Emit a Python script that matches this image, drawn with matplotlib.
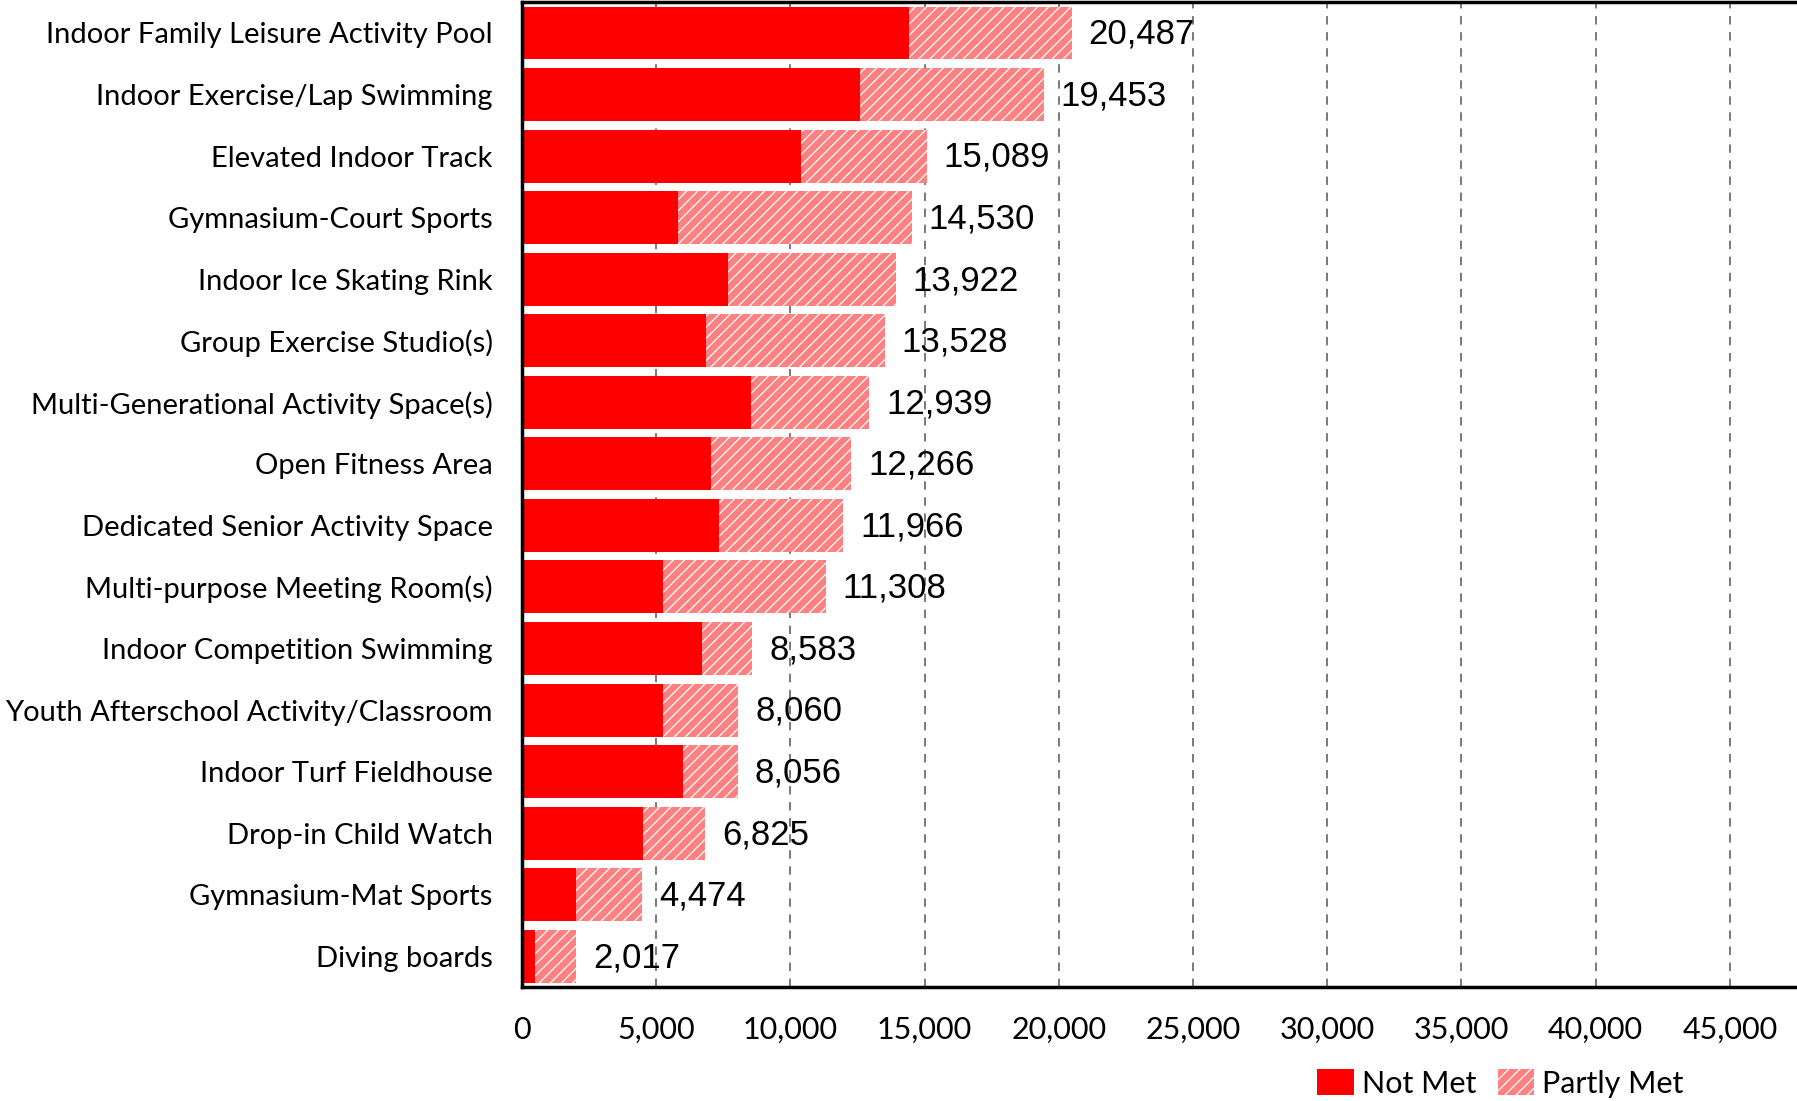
import numpy as np
import matplotlib
matplotlib.use('Agg')
import matplotlib.pyplot as plt
from matplotlib.patches import Patch

plt.rcParams['hatch.linewidth'] = 0.9

categories = ['Indoor Family Leisure Activity Pool', 'Indoor Exercise/Lap Swimming',
              'Elevated Indoor Track', 'Gymnasium-Court Sports', 'Indoor Ice Skating Rink',
              'Group Exercise Studio(s)', 'Multi-Generational Activity Space(s)',
              'Open Fitness Area', 'Dedicated Senior Activity Space',
              'Multi-purpose Meeting Room(s)', 'Indoor Competition Swimming',
              'Youth Afterschool Activity/Classroom', 'Indoor Turf Fieldhouse',
              'Drop-in Child Watch', 'Gymnasium-Mat Sports', 'Diving boards']
totals = [20487, 19453, 15089, 14530, 13922, 13528, 12939, 12266,
          11966, 11308, 8583, 8060, 8056, 6825, 4474, 2017]
not_met = [14420, 12590, 10410, 5800, 7680, 6870, 8530, 7040,
           7340, 5250, 6690, 5270, 5990, 4500, 2000, 500]
partly_met = [t - n for t, n in zip(totals, not_met)]
xticks = np.arange(0, 45001, 5000)

fig = plt.figure(figsize=(17.97, 11.01), dpi=100)
ax = fig.add_axes([0.2905, 0.1035, 0.7095, 0.8945])

y = np.arange(len(categories))
ax.barh(y, not_met, height=0.86, color='#FF0000', linewidth=0, zorder=2)
ax.barh(y, partly_met, left=not_met, height=0.86, color='#FF8080',
        edgecolor='white', hatch='///', linewidth=0, zorder=2)

for yi, tot in zip(y, totals):
    ax.annotate(f'{tot:,}', xy=(tot, yi), xytext=(12, -1), textcoords='offset points',
                ha='left', va='center', fontsize=25, family='Liberation Sans', zorder=3)

ax.set_ylim(len(categories) - 0.5, -0.5)
ax.set_xlim(0, 47500)
ax.set_yticks(y)
ax.set_yticklabels(categories, fontsize=21, family='Lato')
ax.set_xticks(xticks)
ax.set_xticklabels([f'{v:,}' for v in xticks], fontsize=22, family='Lato')
ax.tick_params(axis='both', length=0)
ax.tick_params(axis='x', pad=21)
ax.tick_params(axis='y', pad=21)

for v in xticks[1:]:
    ax.axvline(v, color='#555555', linewidth=1.1, dashes=(5.5, 5), zorder=1)

for side in ['left', 'top', 'bottom']:
    ax.spines[side].set_linewidth(2.5)
    ax.spines[side].set_color('black')
ax.spines['right'].set_visible(False)

handles = [Patch(facecolor='#FF0000', linewidth=0, label='Not Met'),
           Patch(facecolor='#FF8080', edgecolor='white', hatch='///', linewidth=0, label='Partly Met')]
fig.legend(handles=handles, loc='lower right', bbox_to_anchor=(0.952, -0.022), ncol=2,
           frameon=False, prop={'family': 'Lato', 'size': 22}, handlelength=1.2,
           handleheight=0.9, handletextpad=0.25, columnspacing=0.7)

fig.savefig('out.png', dpi=100)
